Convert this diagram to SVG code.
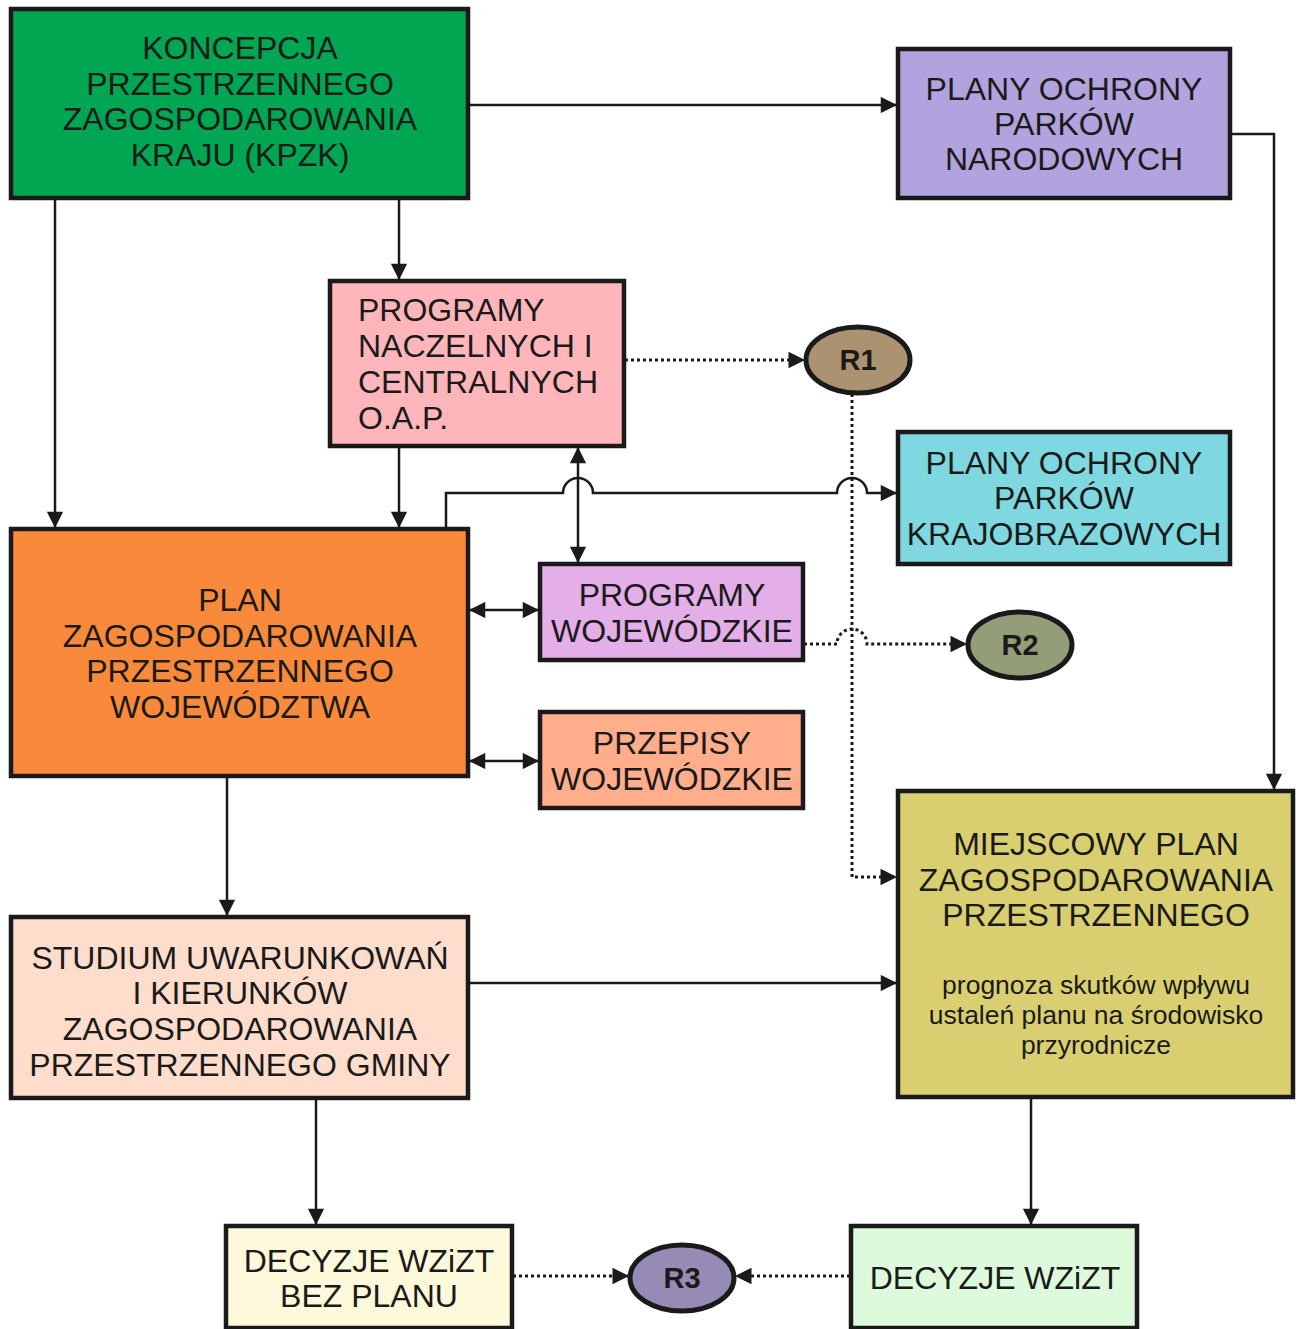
<svg xmlns="http://www.w3.org/2000/svg" width="1303" height="1329" viewBox="0 0 1303 1329">
<style>
.box{stroke:#1a1a1a;stroke-width:4.5}
.t{font-family:"Liberation Sans",Arial,sans-serif;font-size:32px;fill:#1a1a1a;text-anchor:middle}
.tl{text-anchor:start}
.s{font-size:26.5px}
.r{font-family:"Liberation Sans",Arial,sans-serif;font-size:29px;font-weight:bold;fill:#1a1a1a;text-anchor:middle}
.ln{fill:none;stroke:#1a1a1a;stroke-width:2.5}
.dt{fill:none;stroke:#1a1a1a;stroke-width:3;stroke-dasharray:3 3}
.ell{stroke:#1a1a1a;stroke-width:5}
</style>
<defs>
<marker id="a" viewBox="0 0 10 10" refX="10" refY="5" markerWidth="7.5" markerHeight="6.5" markerUnits="strokeWidth" orient="auto-start-reverse"><path d="M0,0 L10,5 L0,10 z" fill="#1a1a1a"/></marker>
<marker id="ad" viewBox="0 0 10 10" refX="10" refY="5" markerWidth="6.5" markerHeight="5.5" markerUnits="strokeWidth" orient="auto-start-reverse"><path d="M0,0 L10,5 L0,10 z" fill="#1a1a1a"/></marker>
</defs>
<rect width="1303" height="1329" fill="#fff"/>
<g id="connectors">
<path class="ln" d="M469,105 H897" marker-end="url(#a)"/>
<path class="ln" d="M55,199 V528" marker-end="url(#a)"/>
<path class="ln" d="M399,199 V280" marker-end="url(#a)"/>
<path class="ln" d="M399,447 V528" marker-end="url(#a)"/>
<path class="ln" d="M578,447 V563" marker-start="url(#a)" marker-end="url(#a)"/>
<path class="ln" d="M446,528 V493 H563 A15,15 0 0 1 593,493 H837 A15,15 0 0 1 867,493 H897" marker-end="url(#a)"/>
<path class="ln" d="M469,610 H539" marker-start="url(#a)" marker-end="url(#a)"/>
<path class="ln" d="M469,761 H539" marker-start="url(#a)" marker-end="url(#a)"/>
<path class="ln" d="M1231,134 H1274 V790" marker-end="url(#a)"/>
<path class="ln" d="M227,777 V916" marker-end="url(#a)"/>
<path class="ln" d="M469,983 H897" marker-end="url(#a)"/>
<path class="ln" d="M316,1099 V1225" marker-end="url(#a)"/>
<path class="ln" d="M1031,1098 V1225" marker-end="url(#a)"/>
<path class="dt" d="M625,360 H805" marker-end="url(#ad)"/>
<path class="dt" d="M852,394 V877 H897" marker-end="url(#ad)"/>
<path class="dt" d="M804,644 H837 A15,15 0 0 1 867,644 H967" marker-end="url(#ad)"/>
<path class="dt" d="M513,1276 H629" marker-end="url(#ad)"/>
<path class="dt" d="M850,1276 H735" marker-end="url(#ad)"/>
</g>
<g id="kpzk">
<rect class="box" x="11" y="9" width="457" height="189" fill="#00a651"/>
<text class="t"><tspan x="240" y="59">KONCEPCJA</tspan><tspan x="240" y="94.5">PRZESTRZENNEGO</tspan><tspan x="240" y="130">ZAGOSPODAROWANIA</tspan><tspan x="240" y="165.5">KRAJU (KPZK)</tspan></text>
</g>
<g id="parki-narodowe">
<rect class="box" x="898" y="49" width="332" height="149" fill="#b1a3dd"/>
<text class="t"><tspan x="1064" y="100">PLANY OCHRONY</tspan><tspan x="1064" y="135">PARKÓW</tspan><tspan x="1064" y="170">NARODOWYCH</tspan></text>
</g>
<g id="programy-naczelne">
<rect class="box" x="330" y="281" width="294" height="165" fill="#ffb6bb"/>
<text class="t tl"><tspan x="358" y="321">PROGRAMY</tspan><tspan x="358" y="357">NACZELNYCH I</tspan><tspan x="358" y="393">CENTRALNYCH</tspan><tspan x="358" y="429">O.A.P.</tspan></text>
</g>
<g id="r1">
<ellipse class="ell" cx="858" cy="360" rx="52" ry="33" fill="#ab9372"/>
<text class="r" x="858" y="370">R1</text>
</g>
<g id="parki-krajobrazowe">
<rect class="box" x="898" y="432" width="332" height="132" fill="#7fd8df"/>
<text class="t"><tspan x="1064" y="474">PLANY OCHRONY</tspan><tspan x="1064" y="509">PARKÓW</tspan><tspan x="1064" y="545">KRAJOBRAZOWYCH</tspan></text>
</g>
<g id="plan-wojewodztwa">
<rect class="box" x="11" y="529" width="457" height="247" fill="#f98a3c"/>
<text class="t"><tspan x="240" y="611">PLAN</tspan><tspan x="240" y="647">ZAGOSPODAROWANIA</tspan><tspan x="240" y="682">PRZESTRZENNEGO</tspan><tspan x="240" y="718">WOJEWÓDZTWA</tspan></text>
</g>
<g id="programy-wojewodzkie">
<rect class="box" x="540" y="564" width="263" height="96" fill="#e4aee9"/>
<text class="t"><tspan x="672" y="606">PROGRAMY</tspan><tspan x="672" y="642">WOJEWÓDZKIE</tspan></text>
</g>
<g id="r2">
<ellipse class="ell" cx="1020" cy="645" rx="52" ry="33" fill="#939d78"/>
<text class="r" x="1020" y="655">R2</text>
</g>
<g id="przepisy">
<rect class="box" x="540" y="712" width="263" height="96" fill="#ffad8a"/>
<text class="t"><tspan x="672" y="754">PRZEPISY</tspan><tspan x="672" y="790">WOJEWÓDZKIE</tspan></text>
</g>
<g id="miejscowy-plan">
<rect class="box" x="898" y="791" width="395" height="306" fill="#d9cf71"/>
<text class="t"><tspan x="1096" y="855">MIEJSCOWY PLAN</tspan><tspan x="1096" y="891">ZAGOSPODAROWANIA</tspan><tspan x="1096" y="926">PRZESTRZENNEGO</tspan></text>
<text class="t s"><tspan x="1096" y="994">prognoza skutków wpływu</tspan><tspan x="1096" y="1024">ustaleń planu na środowisko</tspan><tspan x="1096" y="1054">przyrodnicze</tspan></text>
</g>
<g id="studium">
<rect class="box" x="11" y="917" width="457" height="181" fill="#ffddcc"/>
<text class="t"><tspan x="240" y="969">STUDIUM UWARUNKOWAŃ</tspan><tspan x="240" y="1004">I KIERUNKÓW</tspan><tspan x="240" y="1040">ZAGOSPODAROWANIA</tspan><tspan x="240" y="1076">PRZESTRZENNEGO GMINY</tspan></text>
</g>
<g id="decyzje-bez-planu">
<rect class="box" x="226" y="1226" width="286" height="102" fill="#fff9dc"/>
<text class="t"><tspan x="369" y="1272">DECYZJE WZiZT</tspan><tspan x="369" y="1307">BEZ PLANU</tspan></text>
</g>
<g id="r3">
<ellipse class="ell" cx="682" cy="1278" rx="52" ry="33" fill="#958bb5"/>
<text class="r" x="682" y="1288">R3</text>
</g>
<g id="decyzje">
<rect class="box" x="851" y="1226" width="286" height="102" fill="#ddfadc"/>
<text class="t" x="995" y="1289">DECYZJE WZiZT</text>
</g>
</svg>
